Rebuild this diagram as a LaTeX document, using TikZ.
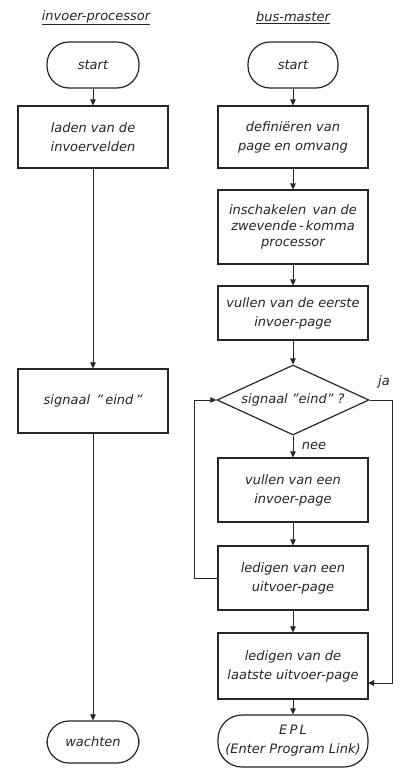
\documentclass[tikz,border=0pt]{standalone}
\usepackage{fontspec}
\setmainfont{DejaVu Sans}
\usetikzlibrary{arrows.meta,shapes.geometric}
\begin{document}
\begin{tikzpicture}[x=1pt,y=1pt,
  every node/.style={font=\itshape\fontsize{13}{19}\selectfont, text=black!85, inner sep=0pt},
  lbox/.style={draw=black!85, line width=1.2pt, minimum width=150pt, align=center},
  term/.style={draw=black!85, line width=1.2pt, rounded corners=22pt, align=center},
  dec/.style={draw=black!85, line width=1.2pt, diamond, aspect=2.2, minimum width=152pt, minimum height=70pt},
  hdr/.style={font=\itshape\fontsize{13}{16}\selectfont},
  arr/.style={draw=black!85, line width=1pt, -{Triangle[width=5.5pt,length=6pt]}},
  ln/.style={draw=black!85, line width=1pt}
]
\useasboundingbox (0,0) rectangle (400,-769);
\fill[white] (0,0) rectangle (400,-769);

% headers
\node[hdr] (hL) at (96,-18) {\underline{invoer-processor}};
\node[hdr] (hR) at (293,-18) {\underline{bus-master}};

% left column
\node[term, minimum width=92pt, minimum height=46pt] (sL) at (93,-65) {start};
\node[lbox, minimum height=62pt] (lL) at (93,-137) {laden van de\\invoervelden};
\node[lbox, minimum height=64pt] (eL) at (93,-401) {signaal \,"\,eind\,"};
\node[term, minimum width=92pt, minimum height=42pt] (wL) at (93,-742) {wachten};

\draw[arr] (sL) -- (lL);
\draw[arr] (lL) -- (eL);
\draw[arr] (eL) -- (wL);

% right column
\node[term, minimum width=90pt, minimum height=46pt] (sR) at (293,-65) {start};
\node[lbox, minimum height=62pt] (b1) at (293,-137) {definiëren van\\page en omvang};
\node[lbox, minimum height=74pt, font=\itshape\fontsize{13}{16}\selectfont] (b2) at (293,-227) {inschakelen \,van de\\zwevende\,-\,komma\\processor};
\node[lbox, minimum height=54pt] (b3) at (293,-313) {vullen van de eerste\\invoer-page};
\node[dec] (d) at (293,-400) {signaal "eind" ?};
\node[lbox, minimum height=64pt] (b4) at (293,-490) {vullen van een\\invoer-page};
\node[lbox, minimum height=64pt] (b5) at (293,-578) {ledigen van een\\uitvoer-page};
\node[lbox, minimum height=66pt] (b6) at (293,-666) {ledigen van de\\laatste uitvoer-page};
\node[term, minimum width=150pt, minimum height=52pt, rounded corners=24pt] (epl) at (293,-741) {E\,P\,L\\(Enter Program Link)};

\draw[arr] (sR) -- (b1);
\draw[arr] (b1) -- (b2);
\draw[arr] (b2) -- (b3);
\draw[arr] (b3) -- (d);
\draw[arr] (d) -- (b4);
\draw[arr] (b4) -- (b5);
\draw[arr] (b5) -- (b6);
\draw[arr] (b6) -- (epl);

% loop back
\coordinate (loopL) at (194,-578);
\draw[arr] (b5.west) -- (loopL) |- (d.west);

% ja branch
\coordinate (jaTop) at (392,-400);
\coordinate (jaIn) at (368,-683);
\draw[arr] (d.east) -- (jaTop) |- (jaIn);

\node (ja) at (384,-382) {ja};
\node (nee) at (314,-446) {nee};
\end{tikzpicture}
\end{document}
